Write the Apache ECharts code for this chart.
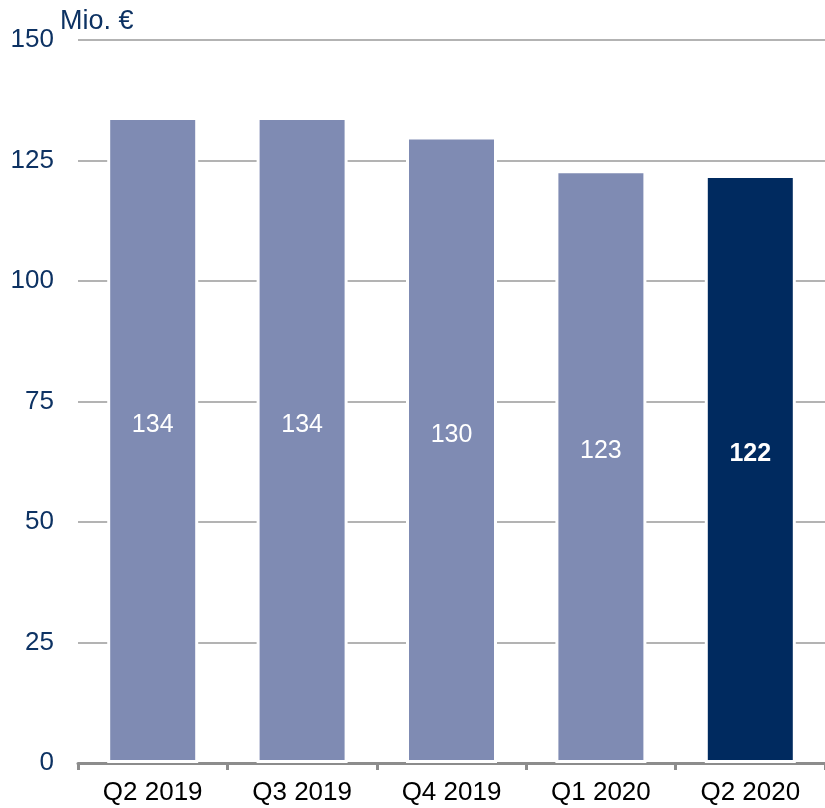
<!DOCTYPE html>
<html>
<head>
<meta charset="utf-8">
<script src="https://cdn.jsdelivr.net/npm/echarts@6/dist/echarts.min.js"></script>
<style>
  html, body { margin: 0; padding: 0; background: #fff; }
  #chart { width: 825px; height: 808px; }
</style>
</head>
<body>
<div id="chart"></div>
<script>
// Quartalswerte in Mio. €
const categories = ['Q2 2019', 'Q3 2019', 'Q4 2019', 'Q1 2020', 'Q2 2020']
const values = [134, 134, 130, 123, 122]
const yTicks = [0, 25, 50, 75, 100, 125, 150]
const currentIndex = 4

const navy = '#0d3263'
const lightBar = '#7f8bb3'
const darkBar = '#002a5f'

const chart = echarts.init(document.getElementById('chart'))

const barData = values.map((v, i) => {
  const current = i === currentIndex
  return {
    value: v,
    itemStyle: { color: current ? darkBar : lightBar },
    label: { fontWeight: current ? 'bold' : 'normal' }
  }
})

chart.setOption({
  animation: false,
  textStyle: { fontFamily: 'Liberation Sans, Arial, sans-serif' },
  title: {
    text: 'Mio. €',
    left: 55,
    top: 3,
    textStyle: { color: navy, fontSize: 27, fontWeight: 'normal' }
  },
  grid: {
    top: 40,
    bottom: 45,
    left: 78,
    right: -3
  },
  xAxis: {
    type: 'category',
    data: categories,
    axisLine: {
      lineStyle: { color: '#8c8c8c', width: 3 }
    },
    axisTick: {
      show: true,
      length: 7,
      lineStyle: { color: '#8c8c8c', width: 3 }
    },
    axisLabel: {
      color: '#000',
      fontSize: 26,
      margin: 17
    }
  },
  yAxis: {
    type: 'value',
    min: yTicks[0],
    max: yTicks[yTicks.length - 1],
    interval: 25,
    axisLine: { show: false },
    axisTick: { show: false },
    axisLabel: {
      color: navy,
      fontSize: 26,
      margin: 24
    },
    splitLine: {
      show: true,
      lineStyle: { color: '#b3b3b3', width: 2 }
    }
  },
  series: [
    {
      type: 'bar',
      data: barData,
      barWidth: 91,
      itemStyle: {
        borderColor: '#ffffff',
        borderWidth: 3
      },
      label: {
        show: true,
        position: 'inside',
        offset: [0, -15],
        color: '#fff',
        fontSize: 25
      }
    }
  ]
})
</script>
</body>
</html>
